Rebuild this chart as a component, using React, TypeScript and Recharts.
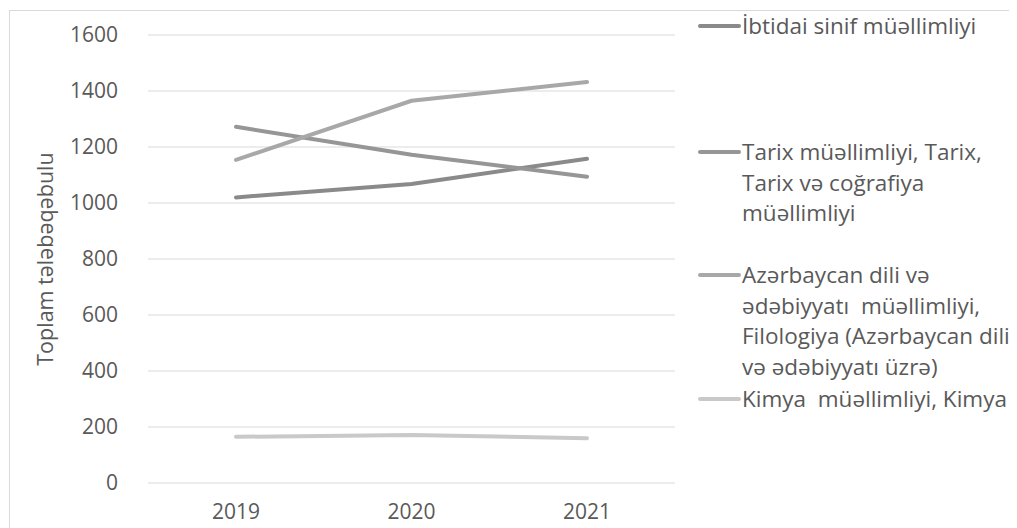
import { LineChart, Line, XAxis, YAxis, CartesianGrid, Legend } from "recharts"

const years = ["2019", "2020", "2021"]
const ibtidai = [1020, 1068, 1158]
const tarix = [1272, 1172, 1094]
const azerbaycan = [1154, 1365, 1432]
const kimya = [165, 171, 160]

const yTicks = [0, 200, 400, 600, 800, 1000, 1200, 1400, 1600]

// ad, rəng, legend sətirləri
const seriesNames = [
  "İbtidai sinif müəllimliyi",
  "Tarix müəllimliyi, Tarix,\nTarix və coğrafiya\nmüəllimliyi",
  "Azərbaycan dili və\nədəbiyyatı  müəllimliyi,\nFilologiya (Azərbaycan dili\nvə ədəbiyyatı üzrə)",
  "Kimya  müəllimliyi, Kimya",
]
const seriesKeys = ["ibtidai", "tarix", "azerbaycan", "kimya"]
const seriesColors = ["#8a8a8a", "#969696", "#a8a8a8", "#c9c9c9"]
const legendTops = [3, 129, 252, 376]

const data = years.map((y, i) => ({
  year: y,
  ibtidai: ibtidai[i],
  tarix: tarix[i],
  azerbaycan: azerbaycan[i],
  kimya: kimya[i],
}))

const font = '"Open Sans", sans-serif'

const renderLegend = () => (
  <div style={{ position: "relative", width: 319, height: 440, fontFamily: font }}>
    {seriesNames.map((name, i) => (
      <div key={name} style={{ position: "absolute", left: 0, top: legendTops[i], display: "flex" }}>
        <div style={{ width: 44, height: 30, position: "relative" }}>
          <div
            style={{
              position: "absolute",
              left: 0,
              right: 1,
              top: 13,
              height: 4,
              borderRadius: 2,
              background: seriesColors[i],
            }}
          />
        </div>
        <div style={{ whiteSpace: "pre", fontSize: 22.5, lineHeight: "30.5px", color: "#595959" }}>{name}</div>
      </div>
    ))}
  </div>
)

export default function App() {
  return (
    <div style={{ position: "relative", width: 1009, height: 520 }}>
      <div
        style={{
          position: "absolute",
          left: 1,
          top: 2,
          right: -10,
          bottom: -10,
          borderTop: "1px solid #d9d9d9",
          borderLeft: "1px solid #d9d9d9",
        }}
      />
      <LineChart width={1009} height={520} data={data} margin={{ top: 27, right: 23, left: 0, bottom: 0 }}>
        <CartesianGrid vertical={false} stroke="#d9d9d9" strokeWidth={1.2} />
        <XAxis
          dataKey="year"
          axisLine={false}
          tickLine={false}
          tickSize={0}
          tickMargin={21}
          height={45}
          interval={0}
          padding={{ left: 88, right: 88 }}
          tick={{ fill: "#595959", fontSize: 21, fontFamily: font }}
        />
        <YAxis
          width={140}
          domain={[0, 1600]}
          ticks={yTicks}
          axisLine={false}
          tickLine={false}
          tickSize={0}
          tickMargin={30}
          tick={{ fill: "#595959", fontSize: 21, fontFamily: font }}
          label={{
            value: "Toplam tələbəqəbulu",
            angle: -90,
            position: "insideLeft",
            offset: 37,
            style: { textAnchor: "middle", fill: "#595959", fontSize: 21.5, fontFamily: font },
          }}
        />
        <Legend
          content={renderLegend}
          layout="vertical"
          align="right"
          verticalAlign="top"
          wrapperStyle={{ left: 690, top: 0, width: 319 }}
        />
        {seriesKeys.map((k, i) => (
          <Line
            key={k}
            dataKey={k}
            name={seriesNames[i]}
            stroke={seriesColors[i]}
            strokeWidth={4}
            strokeLinecap="round"
            dot={false}
            activeDot={false}
            isAnimationActive={false}
          />
        ))}
      </LineChart>
    </div>
  )
}
